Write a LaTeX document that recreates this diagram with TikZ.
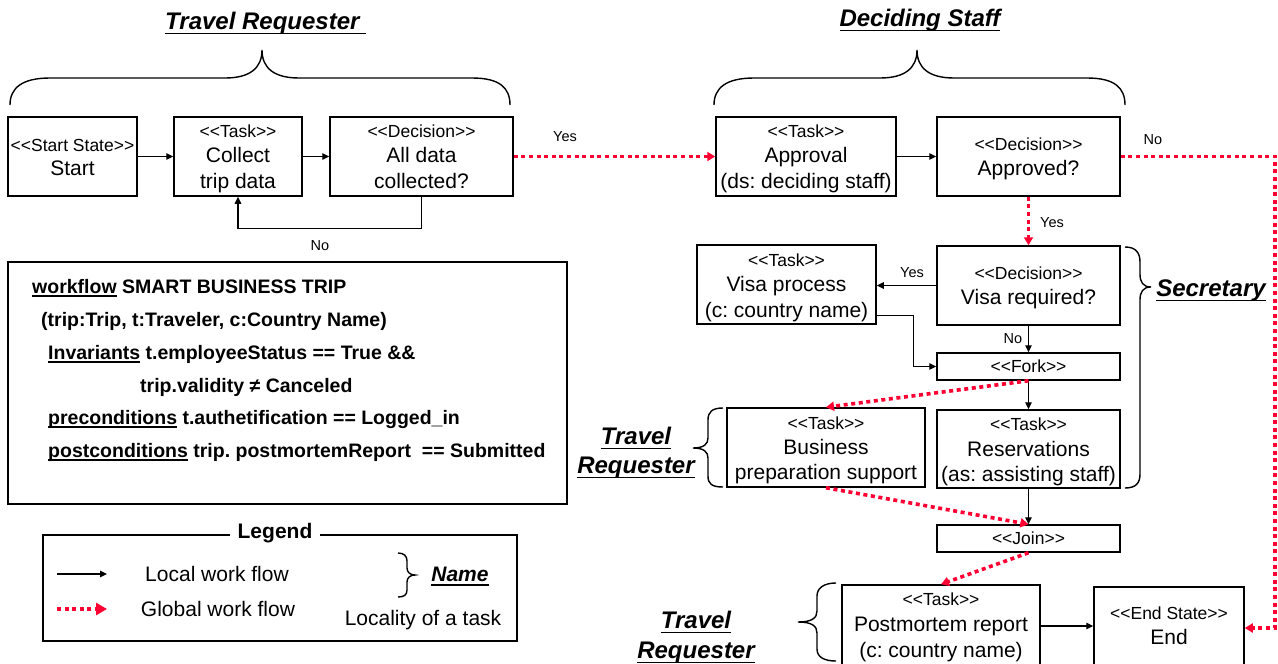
\documentclass[tikz,border=0pt]{standalone}
\usepackage{fontspec}
\newfontfamily\fa{Liberation Sans}
\usetikzlibrary{arrows.meta,calc}
\definecolor{gred}{RGB}{255,0,51}
\frenchspacing
\newsavebox\undlbox
\newcommand\undl[1]{\sbox\undlbox{#1}\rlap{\rule[-0.2em]{\wd\undlbox}{0.075em}}\usebox\undlbox}
\tikzset{
  box/.style={draw, line width=1.5pt, inner sep=0pt, fill=white},
  flow/.style={line width=1.3pt, -{Triangle[length=7pt,width=6.5pt]}},
  gflow/.style={gred, line width=3.6pt, dash pattern=on 4pt off 3.6pt, -{Triangle[length=8pt,width=9pt]}},
  brc/.style={line width=1.4pt},
  st/.style={font=\fa\fontsize{17.5}{20}\selectfont, inner sep=0pt, text height=12.5pt, text depth=0pt},
  mn/.style={font=\fa\fontsize{21}{24}\selectfont, inner sep=0pt, text height=15pt, text depth=0pt},
  lb/.style={font=\fa\fontsize{14.5}{17}\selectfont, inner sep=0pt, text height=10.4pt, text depth=0pt},
  ttl/.style={font=\fa\bfseries\itshape\fontsize{24}{28}\selectfont, inner sep=0pt, text height=17.2pt, text depth=0pt},
  wf/.style={font=\fa\bfseries\fontsize{19.5}{22}\selectfont, inner sep=0pt, anchor=base west},
}
\begin{document}
\begin{tikzpicture}[x=1pt, y=-1pt]
\useasboundingbox (0,0) rectangle (1278,664);
\fill[white] (0,0) rectangle (1278,664);

% ---------- lane titles and braces ----------
\node[ttl, anchor=west] (tr1) at (165,21) {\undl{Travel Requester\ }};
\node[ttl] (ds) at (920,18) {\undl{Deciding Staff}};
\draw[brc] (10,105) .. controls (10,88) and (22,78) .. (50,78) -- (225,78)
  .. controls (250,78) and (262,68) .. (262,50)
  .. controls (262,68) and (274,78) .. (299,78) -- (472,78)
  .. controls (500,78) and (510,88) .. (510,105);
\draw[brc] (714,105) .. controls (714,88) and (726,78) .. (754,78) -- (880,78)
  .. controls (905,78) and (917,68) .. (917,50)
  .. controls (917,68) and (929,78) .. (954,78) -- (1087,78)
  .. controls (1115,78) and (1125,88) .. (1125,105);

% ---------- boxes ----------
\node[box, minimum width=129, minimum height=79] (start) at (72.5,156.5) {};
\node[box, minimum width=128, minimum height=79] (collect) at (238,156.5) {};
\node[box, minimum width=183, minimum height=79] (dec1) at (421.5,156.5) {};
\node[box, minimum width=180, minimum height=79] (approval) at (806,156.5) {};
\node[box, minimum width=183, minimum height=79] (approved) at (1028.5,156.5) {};
\node[box, minimum width=183, minimum height=79] (visareq) at (1028.5,285.5) {};
\node[box, minimum width=179, minimum height=79] (visaproc) at (786.5,284.5) {};
\node[box, minimum width=183, minimum height=27] (fork) at (1028.5,366.5) {};
\node[box, minimum width=198, minimum height=79] (business) at (826,447.5) {};
\node[box, minimum width=183, minimum height=78] (reserv) at (1028.5,449) {};
\node[box, minimum width=183, minimum height=27] (join) at (1028.5,538.5) {};
\node[box, minimum width=198, minimum height=82] (postm) at (941,626) {};
\node[box, minimum width=150, minimum height=82] (end) at (1169,628) {};

% ---------- box texts ----------
\node[st] (start-s) at (72.5,145) {<<Start State>>};
\node[mn] (start-m) at (72.5,168) {Start};
\node[st] (collect-s) at (238,131) {<<Task>>};
\node[mn] (collect-m) at (238,155) {Collect};
\node[mn] (collect-n) at (238,181) {trip data};
\node[st] (dec1-s) at (421.5,131) {<<Decision>>};
\node[mn] (dec1-m) at (421.5,155) {All data};
\node[mn] (dec1-n) at (421.5,181) {collected?};
\node[st] (approval-s) at (806,131) {<<Task>>};
\node[mn] (approval-m) at (806,155) {Approval};
\node[mn] (approval-n) at (806,181) {(ds: deciding staff)};
\node[st] (approved-s) at (1028.5,144) {<<Decision>>};
\node[mn] (approved-m) at (1028.5,168) {Approved?};
\node[st] (visareq-s) at (1028.5,273) {<<Decision>>};
\node[mn] (visareq-m) at (1028.5,297) {Visa required?};
\node[st] (visaproc-s) at (786.5,260) {<<Task>>};
\node[mn] (visaproc-m) at (786.5,284) {Visa process};
\node[mn] (visaproc-n) at (786.5,310) {(c: country name)};
\node[st] (fork-s) at (1028.5,366.5) {<<Fork>>};
\node[st] (business-s) at (826,423) {<<Task>>};
\node[mn] (business-m) at (826,447) {Business};
\node[mn] (business-n) at (826,472) {preparation support};
\node[st] (reserv-s) at (1028.5,424) {<<Task>>};
\node[mn] (reserv-m) at (1028.5,449) {Reservations};
\node[mn] (reserv-n) at (1028.5,474) {(as: assisting staff)};
\node[st] (join-s) at (1028.5,538.5) {<<Join>>};
\node[st] (postm-s) at (941,599) {<<Task>>};
\node[mn] (postm-m) at (941,624) {Postmortem report};
\node[mn] (postm-n) at (941,650) {(c: country name)};
\node[st] (end-s) at (1169,613) {<<End State>>};
\node[mn] (end-m) at (1169,637) {End};

% ---------- local flow ----------
\draw[flow] (start) -- (collect);
\draw[flow] (collect) -- (dec1);
\draw[flow] (dec1.south) -- ++(0,32) -| (collect.south);
\draw[flow] (approval) -- (approved);
\draw[flow] (visareq.west) -- (visareq.west -| visaproc.east);
\coordinate (vpout) at ($(visaproc.south east)+(0,-9)$);
\draw[flow] (vpout) -| ++(37,0) |- (fork.west);
\draw[flow] (visareq.south) -- (fork.north);
\draw[flow] (fork.south) -- (reserv.north);
\draw[flow] (reserv.south) -- (join.north);
\draw[flow] (postm.east) -- (postm.east -| end.west);

% ---------- global flow ----------
\draw[gflow] (dec1.east) -- (approval.west);
\coordinate (rc) at (1275,156.5);
\draw[gflow] (approved.east) -- (rc) |- (end.east);
\draw[gflow] (approved.south) -- (visareq.north);
\draw[gflow] (fork.south) -- (business.north);
\draw[gflow] (business.south) -- (join.north);
\draw[gflow] (join.south) -- (postm.north);

% ---------- flow labels ----------
\node[lb] (l-yes1) at (565,136) {Yes};
\node[lb] (l-no1) at (320,245) {No};
\node[lb] (l-no2) at (1153,139) {No};
\node[lb] (l-yes2) at (1052,222) {Yes};
\node[lb] (l-yes3) at (912,272) {Yes};
\node[lb] (l-no3) at (1013,338) {No};

% ---------- locality braces ----------
\draw[brc] (1125,247) .. controls (1136,247) and (1140,253) .. (1140,262) -- (1140,274)
  .. controls (1140,282) and (1143,287) .. (1151,287)
  .. controls (1143,287) and (1140,292) .. (1140,300) -- (1140,474)
  .. controls (1140,483) and (1136,488) .. (1125,488);
\node[ttl] (secr) at (1211,288) {\undl{Secretary}};

\draw[brc] (723,408) .. controls (712,408) and (708,412) .. (708,420) -- (708,438)
  .. controls (708,444) and (704,448) .. (693,448)
  .. controls (704,448) and (708,452) .. (708,458) -- (708,476)
  .. controls (708,484) and (712,487) .. (723,487);
\node[ttl] (tr2a) at (636,436) {\undl{Travel}};
\node[ttl] (tr2b) at (636,465) {\undl{Requester}};

\draw[brc] (836,583) .. controls (824,583) and (817,588) .. (817,596) -- (817,611)
  .. controls (817,618) and (812,622) .. (798,622)
  .. controls (812,622) and (817,626) .. (817,633) -- (817,649)
  .. controls (817,657) and (824,661) .. (836,661);
\node[ttl] (tr3a) at (696,620) {\undl{Travel}};
\node[ttl] (tr3b) at (696,650) {\undl{Requester}};

% ---------- workflow specification ----------
\node[draw, line width=1.6pt, minimum width=559, minimum height=242, inner sep=0pt] (wfbox) at (287.5,383) {};
\node[wf] (wf1) at (32,293) {\undl{workflow} SMART BUSINESS TRIP};
\node[wf] (wf2) at (41,326) {(trip:Trip, t:Traveler, c:Country Name)};
\node[wf] (wf3) at (48,359) {\undl{Invariants} t.employeeStatus == True \&\&};
\node[wf] (wf4) at (140,392) {trip.validity ≠ Canceled};
\node[wf] (wf5) at (48,424) {\undl{preconditions} t.authetification == Logged\_in};
\node[wf] (wf6) at (48,457) {\undl{postconditions} trip. postmortemReport\ \ == Submitted};

% ---------- legend ----------
\node[draw, line width=1.2pt, minimum width=474, minimum height=106, inner sep=0pt] (legend) at (280,588) {};
\node[fill=white, inner xsep=8pt, inner ysep=2pt, font=\fa\bfseries\fontsize{21}{24}\selectfont, text height=15pt, text depth=0pt] (legend-t) at (275,531) {Legend};
\coordinate (lg1a) at (57,574);
\coordinate (lg1b) at (107,574);
\coordinate (lg2a) at (57,609);
\coordinate (lg2b) at (107,609);
\draw[flow] (lg1a) -- (lg1b);
\draw[gred, line width=3.6pt, dash pattern=on 4pt off 3.6pt, -{Triangle[length=11pt,width=12pt]}] (lg2a) -- (lg2b);
\node[mn] (lg-local) at (217,574) {Local work flow};
\node[mn] (lg-global) at (218,609) {Global work flow};
\draw[brc] (398,553) .. controls (404,553) and (407,556) .. (407,561) -- (407,568)
  .. controls (407,572) and (410,575) .. (415,575)
  .. controls (410,575) and (407,578) .. (407,582) -- (407,590)
  .. controls (407,595) and (404,597) .. (398,597);
\node[font=\fa\bfseries\itshape\fontsize{21}{24}\selectfont, inner sep=0pt, text height=15pt, text depth=0pt] (lg-name) at (460,574) {\undl{Name}};
\node[mn] (lg-loc) at (423,618) {Locality of a task};
\end{tikzpicture}
\end{document}
